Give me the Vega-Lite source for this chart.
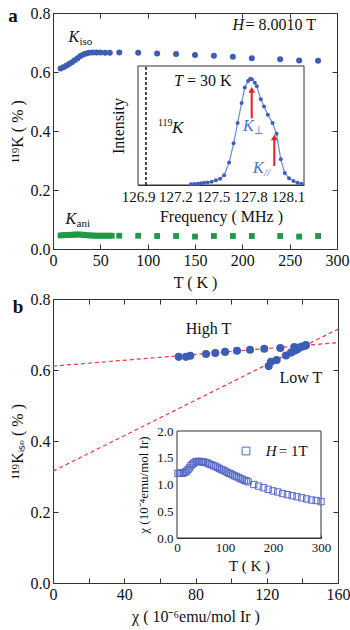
{
"$schema": "https://vega.github.io/schema/vega-lite/v6.json",
"padding": {"left": 7, "top": 4, "right": 5, "bottom": 5},
"background": "white",
"config": {
  "font": "Liberation Serif",
  "view": {"stroke": "#333", "strokeWidth": 1},
  "axis": {"labelFont": "Liberation Serif", "titleFont": "Liberation Serif", "labelFontSize": 16, "titleFontSize": 16, "titleFontWeight": "normal", "labelColor": "#111", "titleColor": "#111", "domainColor": "#333", "tickColor": "#333", "grid": false, "tickSize": -5, "labelPadding": 8, "labelFlush": false, "labelOverlap": false}
},
"spacing": 50,
"bounds": "flush",
"datasets": {
  "kiso": [
    {"T": 8, "K": 0.612}, {"T": 11, "K": 0.616}, {"T": 14, "K": 0.621}, {"T": 17, "K": 0.627}, {"T": 20, "K": 0.633},
    {"T": 23, "K": 0.640}, {"T": 26, "K": 0.647}, {"T": 29, "K": 0.654}, {"T": 32, "K": 0.659}, {"T": 35, "K": 0.663},
    {"T": 38, "K": 0.665}, {"T": 42, "K": 0.666}, {"T": 46, "K": 0.666}, {"T": 50, "K": 0.666}, {"T": 55, "K": 0.665},
    {"T": 60, "K": 0.665}, {"T": 70, "K": 0.666}, {"T": 90, "K": 0.665}, {"T": 110, "K": 0.663}, {"T": 130, "K": 0.661},
    {"T": 150, "K": 0.658}, {"T": 170, "K": 0.655}, {"T": 190, "K": 0.652}, {"T": 210, "K": 0.647}, {"T": 240, "K": 0.643},
    {"T": 260, "K": 0.639}, {"T": 280, "K": 0.638}
  ],
  "kani": [
    {"T": 8, "K": 0.046}, {"T": 11, "K": 0.047}, {"T": 14, "K": 0.047}, {"T": 17, "K": 0.048}, {"T": 20, "K": 0.048},
    {"T": 23, "K": 0.049}, {"T": 26, "K": 0.049}, {"T": 29, "K": 0.049}, {"T": 32, "K": 0.048}, {"T": 35, "K": 0.047},
    {"T": 38, "K": 0.046}, {"T": 41, "K": 0.046}, {"T": 44, "K": 0.045}, {"T": 47, "K": 0.045}, {"T": 50, "K": 0.045},
    {"T": 53, "K": 0.045}, {"T": 56, "K": 0.045}, {"T": 59, "K": 0.045}, {"T": 62, "K": 0.045}, {"T": 70, "K": 0.045},
    {"T": 90, "K": 0.045}, {"T": 110, "K": 0.044}, {"T": 130, "K": 0.044}, {"T": 150, "K": 0.042}, {"T": 170, "K": 0.044},
    {"T": 190, "K": 0.044}, {"T": 210, "K": 0.044}, {"T": 240, "K": 0.044}, {"T": 260, "K": 0.042}, {"T": 280, "K": 0.044}
  ],
  "spec": [
    {"f": 127.324, "I": 0.006}, {"f": 127.35, "I": 0.008}, {"f": 127.378, "I": 0.011}, {"f": 127.404, "I": 0.014},
    {"f": 127.43, "I": 0.019}, {"f": 127.458, "I": 0.022}, {"f": 127.49, "I": 0.028}, {"f": 127.524, "I": 0.039},
    {"f": 127.558, "I": 0.053}, {"f": 127.59, "I": 0.081}, {"f": 127.63, "I": 0.19}, {"f": 127.666, "I": 0.35},
    {"f": 127.698, "I": 0.52}, {"f": 127.73, "I": 0.69}, {"f": 127.756, "I": 0.82}, {"f": 127.782, "I": 0.875},
    {"f": 127.798, "I": 0.89}, {"f": 127.812, "I": 0.888}, {"f": 127.836, "I": 0.86}, {"f": 127.852, "I": 0.83},
    {"f": 127.884, "I": 0.72}, {"f": 127.91, "I": 0.66}, {"f": 127.94, "I": 0.59}, {"f": 127.978, "I": 0.52},
    {"f": 128.01, "I": 0.43}, {"f": 128.044, "I": 0.216}, {"f": 128.076, "I": 0.10}, {"f": 128.11, "I": 0.056},
    {"f": 128.146, "I": 0.034}, {"f": 128.178, "I": 0.019}, {"f": 128.21, "I": 0.011}
  ],
  "kchi": [
    {"chi": 70.6, "Kb": 0.637}, {"chi": 74.7, "Kb": 0.637}, {"chi": 77.1, "Kb": 0.640}, {"chi": 85.9, "Kb": 0.645},
    {"chi": 91.1, "Kb": 0.648}, {"chi": 96.6, "Kb": 0.651}, {"chi": 103.3, "Kb": 0.654}, {"chi": 110.6, "Kb": 0.657},
    {"chi": 118.6, "Kb": 0.660}, {"chi": 127.6, "Kb": 0.662}, {"chi": 135.5, "Kb": 0.665}, {"chi": 141.5, "Kb": 0.668},
    {"chi": 121.1, "Kb": 0.611}, {"chi": 122.4, "Kb": 0.623}, {"chi": 125.6, "Kb": 0.628}, {"chi": 130.8, "Kb": 0.641},
    {"chi": 133.6, "Kb": 0.649}, {"chi": 135.5, "Kb": 0.654}, {"chi": 137.0, "Kb": 0.658}, {"chi": 138.3, "Kb": 0.663},
    {"chi": 139.8, "Kb": 0.666}, {"chi": 142.0, "Kb": 0.670}
  ],
  "fits": [
    {"chi": 0, "Kb": 0.611, "g": "high"}, {"chi": 160, "Kb": 0.677, "g": "high"},
    {"chi": 0, "Kb": 0.315, "g": "low"}, {"chi": 160, "Kb": 0.715, "g": "low"}
  ],
  "chiT": [
    {"Tc": 2, "chiT": 1.21}, {"Tc": 5, "chiT": 1.21}, {"Tc": 8, "chiT": 1.21}, {"Tc": 11, "chiT": 1.21}, {"Tc": 14, "chiT": 1.22},
    {"Tc": 17, "chiT": 1.23}, {"Tc": 20, "chiT": 1.25}, {"Tc": 23, "chiT": 1.28}, {"Tc": 26, "chiT": 1.31}, {"Tc": 29, "chiT": 1.35},
    {"Tc": 32, "chiT": 1.38}, {"Tc": 35, "chiT": 1.40}, {"Tc": 38, "chiT": 1.42}, {"Tc": 41, "chiT": 1.43}, {"Tc": 44, "chiT": 1.43},
    {"Tc": 47, "chiT": 1.43}, {"Tc": 50, "chiT": 1.43}, {"Tc": 53, "chiT": 1.42}, {"Tc": 56, "chiT": 1.42}, {"Tc": 60, "chiT": 1.41},
    {"Tc": 64, "chiT": 1.40}, {"Tc": 68, "chiT": 1.38}, {"Tc": 72, "chiT": 1.37}, {"Tc": 76, "chiT": 1.35}, {"Tc": 80, "chiT": 1.34},
    {"Tc": 84, "chiT": 1.32}, {"Tc": 88, "chiT": 1.30}, {"Tc": 92, "chiT": 1.28}, {"Tc": 96, "chiT": 1.27}, {"Tc": 100, "chiT": 1.25},
    {"Tc": 104, "chiT": 1.23}, {"Tc": 108, "chiT": 1.21}, {"Tc": 112, "chiT": 1.20}, {"Tc": 116, "chiT": 1.18}, {"Tc": 120, "chiT": 1.16},
    {"Tc": 124, "chiT": 1.15}, {"Tc": 128, "chiT": 1.13}, {"Tc": 132, "chiT": 1.11}, {"Tc": 136, "chiT": 1.10}, {"Tc": 140, "chiT": 1.08},
    {"Tc": 144, "chiT": 1.07}, {"Tc": 148, "chiT": 1.05}, {"Tc": 160, "chiT": 1.00}, {"Tc": 170, "chiT": 0.97}, {"Tc": 180, "chiT": 0.94},
    {"Tc": 190, "chiT": 0.91}, {"Tc": 200, "chiT": 0.88}, {"Tc": 210, "chiT": 0.86}, {"Tc": 220, "chiT": 0.83}, {"Tc": 230, "chiT": 0.81},
    {"Tc": 240, "chiT": 0.79}, {"Tc": 250, "chiT": 0.77}, {"Tc": 260, "chiT": 0.75}, {"Tc": 270, "chiT": 0.73}, {"Tc": 280, "chiT": 0.71},
    {"Tc": 290, "chiT": 0.70}, {"Tc": 300, "chiT": 0.68}
  ]
},
"vconcat": [
  {
    "width": 284, "height": 236,
    "layer": [
      {
        "encoding": {
          "x": {"field": "T", "type": "quantitative", "scale": {"domain": [0, 300], "nice": false}, "axis": null},
          "y": {"field": "K", "type": "quantitative", "scale": {"domain": [0, 0.8], "nice": false}, "axis": null}
        },
        "layer": [
          {"data": {"name": "kiso"}, "mark": {"type": "point", "shape": "circle", "filled": true, "size": 36, "color": "#3d5db5", "opacity": 0}, "encoding": {
            "x": {"field": "T", "type": "quantitative", "scale": {"domain": [0, 300], "nice": false}, "axis": {"orient": "top", "values": [0, 50, 100, 150, 200, 250, 300], "labels": false, "title": null, "domain": false}},
            "y": {"field": "K", "type": "quantitative", "scale": {"domain": [0, 0.8], "nice": false}, "axis": {"orient": "right", "values": [0, 0.2, 0.4, 0.6, 0.8], "labels": false, "title": null, "domain": false}}}},
          {"data": {"name": "kiso"}, "mark": {"type": "point", "shape": "circle", "filled": true, "size": 36, "color": "#3d5db5", "opacity": 1}, "encoding": {
            "x": {"field": "T", "type": "quantitative", "scale": {"domain": [0, 300], "nice": false}, "axis": {"orient": "bottom", "values": [0, 50, 100, 150, 200, 250, 300], "title": "T ( K )", "titlePadding": 6}},
            "y": {"field": "K", "type": "quantitative", "scale": {"domain": [0, 0.8], "nice": false}, "axis": {"orient": "left", "values": [0, 0.2, 0.4, 0.6, 0.8], "format": ".1f", "title": "¹¹⁹K ( % )", "titlePadding": 5}}}},
          {"data": {"name": "kani"}, "mark": {"type": "point", "shape": "square", "filled": true, "size": 34, "color": "#1e9a46", "opacity": 1}},
          {"data": {"values": [{"T": -42.3, "K": 0.79, "s": "a"}]}, "mark": {"type": "text", "fontWeight": "bold", "fontSize": 19, "align": "center", "baseline": "middle", "color": "#111"}, "encoding": {"text": {"field": "s", "type": "nominal"}}},
          {"data": {"values": [{"T": 277.8, "K": 0.759, "s": "= 8.0010 T"}]}, "mark": {"type": "text", "fontSize": 16, "align": "right", "baseline": "middle", "color": "#111"}, "encoding": {"text": {"field": "s", "type": "nominal"}}},
          {"data": {"values": [{"T": 277.8, "K": 0.759, "s": "H"}]}, "mark": {"type": "text", "fontSize": 16, "fontStyle": "italic", "align": "right", "baseline": "middle", "dx": -72, "color": "#111"}, "encoding": {"text": {"field": "s", "type": "nominal"}}},
          {"data": {"values": [{"T": 16.4, "K": 0.72, "s": "K"}]}, "mark": {"type": "text", "fontSize": 16, "fontStyle": "italic", "align": "left", "baseline": "middle", "color": "#111"}, "encoding": {"text": {"field": "s", "type": "nominal"}}},
          {"data": {"values": [{"T": 16.4, "K": 0.72, "s": "iso"}]}, "mark": {"type": "text", "fontSize": 11, "align": "left", "baseline": "middle", "dx": 11, "dy": 5, "color": "#111"}, "encoding": {"text": {"field": "s", "type": "nominal"}}},
          {"data": {"values": [{"T": 13.2, "K": 0.103, "s": "K"}]}, "mark": {"type": "text", "fontSize": 16, "fontStyle": "italic", "align": "left", "baseline": "middle", "color": "#111"}, "encoding": {"text": {"field": "s", "type": "nominal"}}},
          {"data": {"values": [{"T": 13.2, "K": 0.103, "s": "ani"}]}, "mark": {"type": "text", "fontSize": 11, "align": "left", "baseline": "middle", "dx": 11, "dy": 5, "color": "#111"}, "encoding": {"text": {"field": "s", "type": "nominal"}}}
        ],
        "resolve": {"axis": {"x": "independent", "y": "independent"}}
      },
      {
        "encoding": {
          "x": {"field": "f", "type": "quantitative", "scale": {"domain": [126.9, 128.23], "range": [85, 251], "nice": false, "zero": false}, "axis": {"orient": "bottom", "offset": -64, "values": [126.9, 127.2, 127.5, 127.8, 128.1], "format": ".1f", "labelFontSize": 15, "title": "Frequency ( MHz )", "tickSize": -4, "labelPadding": 8, "titlePadding": 4}},
          "y": {"field": "I", "type": "quantitative", "scale": {"domain": [0, 1], "range": [172, 53], "nice": false}, "axis": {"orient": "left", "offset": -85, "labels": false, "ticks": false, "title": "Intensity", "titlePadding": 12}}
        },
        "layer": [
          {"data": {"values": [{"f": 126.9, "f2": 128.23, "I": 0, "I2": 1}]}, "mark": {"type": "rect", "fill": "white", "stroke": "#333", "strokeWidth": 1}, "encoding": {"x2": {"field": "f2"}, "y2": {"field": "I2"}}},
          {"data": {"values": [{"f": 126.964, "I": 0, "I2": 1}]}, "mark": {"type": "rule", "color": "#111", "strokeDash": [3, 2], "strokeWidth": 1.5}, "encoding": {"y2": {"field": "I2"}}},
          {"data": {"name": "spec"}, "mark": {"type": "line", "color": "#6a8ad8", "strokeWidth": 1.2}},
          {"data": {"name": "spec"}, "mark": {"type": "point", "shape": "circle", "filled": true, "size": 16, "color": "#3e5fc0", "opacity": 1}},
          {"data": {"values": [{"f": 127.811, "I": 0.56, "I2": 0.79}, {"f": 127.992, "I": 0.16, "I2": 0.39}]}, "mark": {"type": "rule", "color": "#e51e25", "strokeWidth": 2}, "encoding": {"y2": {"field": "I2"}}},
          {"data": {"values": [{"f": 127.811, "I": 0.80}, {"f": 127.992, "I": 0.40}]}, "mark": {"type": "point", "shape": "triangle-up", "filled": true, "size": 45, "color": "#e51e25", "opacity": 1}},
          {"data": {"values": [{"f": 127.188, "I": 0.87, "s": "T"}]}, "mark": {"type": "text", "fontSize": 16, "fontStyle": "italic", "align": "left", "baseline": "middle", "color": "#111"}, "encoding": {"text": {"field": "s", "type": "nominal"}}},
          {"data": {"values": [{"f": 127.188, "I": 0.87, "s": "= 30 K"}]}, "mark": {"type": "text", "fontSize": 16, "align": "left", "baseline": "middle", "dx": 13, "color": "#111"}, "encoding": {"text": {"field": "s", "type": "nominal"}}},
          {"data": {"values": [{"f": 127.06, "I": 0.52, "s": "119"}]}, "mark": {"type": "text", "fontSize": 10, "align": "left", "baseline": "middle", "color": "#111"}, "encoding": {"text": {"field": "s", "type": "nominal"}}},
          {"data": {"values": [{"f": 127.06, "I": 0.52, "s": "K"}]}, "mark": {"type": "text", "fontSize": 17, "fontStyle": "italic", "align": "left", "baseline": "middle", "dx": 14, "dy": 5, "color": "#111"}, "encoding": {"text": {"field": "s", "type": "nominal"}}},
          {"data": {"values": [{"f": 127.741, "I": 0.496, "s": "K"}]}, "mark": {"type": "text", "fontSize": 16, "fontStyle": "italic", "align": "left", "baseline": "middle", "color": "#4a6fd0"}, "encoding": {"text": {"field": "s", "type": "nominal"}}},
          {"data": {"values": [{"f": 127.741, "I": 0.496, "s": "⊥"}]}, "mark": {"type": "text", "fontSize": 11, "align": "left", "baseline": "middle", "dx": 11, "dy": 5, "color": "#4a6fd0"}, "encoding": {"text": {"field": "s", "type": "nominal"}}},
          {"data": {"values": [{"f": 127.821, "I": 0.143, "s": "K"}]}, "mark": {"type": "text", "fontSize": 16, "fontStyle": "italic", "align": "left", "baseline": "middle", "color": "#4a6fd0"}, "encoding": {"text": {"field": "s", "type": "nominal"}}},
          {"data": {"values": [{"f": 127.821, "I": 0.143, "s": "//"}]}, "mark": {"type": "text", "fontSize": 11, "fontStyle": "italic", "align": "left", "baseline": "middle", "dx": 11, "dy": 5, "color": "#4a6fd0"}, "encoding": {"text": {"field": "s", "type": "nominal"}}}
        ]
      }
    ],
    "resolve": {"scale": {"x": "independent", "y": "independent"}, "axis": {"x": "independent", "y": "independent"}}
  },
  {
    "width": 285, "height": 284,
    "layer": [
      {
        "encoding": {
          "x": {"field": "chi", "type": "quantitative", "scale": {"domain": [0, 160], "nice": false}, "axis": null},
          "y": {"field": "Kb", "type": "quantitative", "scale": {"domain": [0, 0.8], "nice": false}, "axis": null}
        },
        "layer": [
          {"data": {"name": "fits"}, "mark": {"type": "line", "color": "#f0373c", "strokeDash": [4, 3], "strokeWidth": 1.2}, "encoding": {
            "x": {"field": "chi", "type": "quantitative", "scale": {"domain": [0, 160], "nice": false}, "axis": {"orient": "top", "values": [0, 20, 40, 60, 80, 100, 120, 140, 160], "labels": false, "title": null, "domain": false}},
            "y": {"field": "Kb", "type": "quantitative", "scale": {"domain": [0, 0.8], "nice": false}, "axis": {"orient": "right", "values": [0, 0.2, 0.4, 0.6, 0.8], "labels": false, "title": null, "domain": false}},
            "detail": {"field": "g", "type": "nominal"}}},
          {"data": {"name": "kchi"}, "mark": {"type": "point", "shape": "circle", "filled": true, "size": 65, "color": "#3d5db5", "opacity": 1}, "encoding": {
            "x": {"field": "chi", "type": "quantitative", "scale": {"domain": [0, 160], "nice": false}, "axis": {"orient": "bottom", "values": [0, 20, 40, 60, 80, 100, 120, 140, 160], "labelExpr": "datum.value % 40 == 0 ? datum.label : ''", "title": "χ ( 10⁻⁶emu/mol Ir )", "titlePadding": 6}},
            "y": {"field": "Kb", "type": "quantitative", "scale": {"domain": [0, 0.8], "nice": false}, "axis": {"orient": "left", "values": [0, 0.2, 0.4, 0.6, 0.8], "format": ".1f", "title": "¹¹⁹Kᵢₛₒ ( % )", "titlePadding": 5}}}},
          {"data": {"values": [{"chi": -19.7, "Kb": 0.777, "s": "b"}]}, "mark": {"type": "text", "fontWeight": "bold", "fontSize": 19, "align": "center", "baseline": "middle", "color": "#111"}, "encoding": {"text": {"field": "s", "type": "nominal"}}},
          {"data": {"values": [{"chi": 87.3, "Kb": 0.715, "s": "High T"}]}, "mark": {"type": "text", "fontSize": 16, "align": "center", "baseline": "middle", "color": "#111"}, "encoding": {"text": {"field": "s", "type": "nominal"}}},
          {"data": {"values": [{"chi": 139.2, "Kb": 0.578, "s": "Low T"}]}, "mark": {"type": "text", "fontSize": 16, "align": "center", "baseline": "middle", "color": "#111"}, "encoding": {"text": {"field": "s", "type": "nominal"}}}
        ],
        "resolve": {"axis": {"x": "independent", "y": "independent"}}
      },
      {
        "encoding": {
          "x": {"field": "Tc", "type": "quantitative", "scale": {"domain": [0, 300], "range": [124, 268], "nice": false}, "axis": {"orient": "bottom", "offset": -45, "values": [0,10,20,30,40,50,60,70,80,90,100,110,120,130,140,150,160,170,180,190,200,210,220,230,240,250,260,270,280,290,300], "labelExpr": "datum.value % 100 == 0 ? datum.label : ''", "labelFontSize": 13, "title": "T ( K )", "titleFontSize": 15, "tickSize": -3, "labelPadding": 6, "titlePadding": 4}},
          "y": {"field": "chiT", "type": "quantitative", "scale": {"domain": [0, 2], "range": [239, 132], "nice": false}, "axis": {"orient": "left", "offset": -124, "values": [0,0.1,0.2,0.3,0.4,0.5,0.6,0.7,0.8,0.9,1,1.1,1.2,1.3,1.4,1.5,1.6,1.7,1.8,1.9,2], "labelExpr": "abs(datum.value*2 - round(datum.value*2)) < 0.01 ? format(datum.value, '.1f') : ''", "labelFontSize": 13, "title": "χ (10⁻⁴emu/mol Ir)", "titleFontSize": 13, "tickSize": -3, "labelPadding": 7, "titlePadding": 6}}
        },
        "layer": [
          {"data": {"values": [{"Tc": 0, "Tc2": 300, "chiT": 0, "chiT2": 2}]}, "mark": {"type": "rect", "fill": "white", "stroke": "#333", "strokeWidth": 1}, "encoding": {"x2": {"field": "Tc2"}, "y2": {"field": "chiT2"}}},
          {"data": {"name": "chiT"}, "mark": {"type": "point", "shape": "square", "filled": false, "size": 40, "color": "#5567c9", "strokeWidth": 1, "opacity": 1}},
          {"data": {"values": [{"Tc": 143.75, "chiT": 1.626}]}, "mark": {"type": "point", "shape": "square", "filled": false, "size": 60, "color": "#5567c9", "strokeWidth": 1, "opacity": 1}},
          {"data": {"values": [{"Tc": 185, "chiT": 1.626, "s": "H"}]}, "mark": {"type": "text", "fontSize": 15, "fontStyle": "italic", "align": "left", "baseline": "middle", "color": "#111"}, "encoding": {"text": {"field": "s", "type": "nominal"}}},
          {"data": {"values": [{"Tc": 185, "chiT": 1.626, "s": "= 1T"}]}, "mark": {"type": "text", "fontSize": 15, "align": "left", "baseline": "middle", "dx": 13, "color": "#111"}, "encoding": {"text": {"field": "s", "type": "nominal"}}}
        ]
      }
    ],
    "resolve": {"scale": {"x": "independent", "y": "independent"}, "axis": {"x": "independent", "y": "independent"}}
  }
]
}
